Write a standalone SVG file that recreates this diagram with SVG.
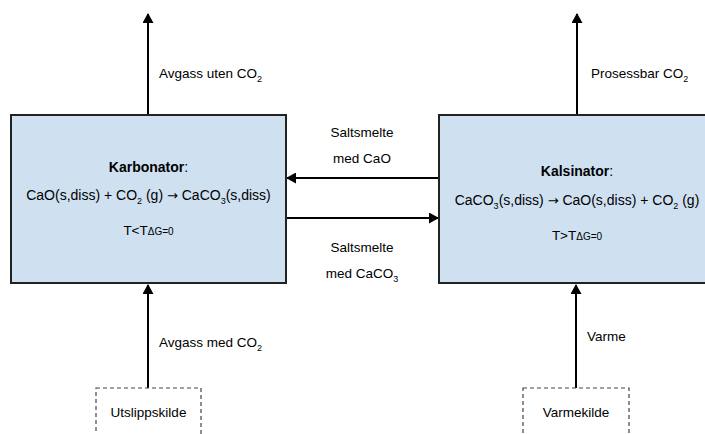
<svg xmlns="http://www.w3.org/2000/svg" width="705" height="434" viewBox="0 0 705 434">
<defs>
<style>
text{font-family:"Liberation Sans",Arial,sans-serif;fill:#000;}
.t{font-size:14px;}
.l{font-size:13.5px;}
.m{text-anchor:middle;}
.b{font-weight:bold;}
.sub{font-size:9px;}
.sub2{font-size:10px;}
.arr{font-family:"DejaVu Sans",sans-serif;font-size:13px;}
.box{fill:#cfe0f1;stroke:#222;stroke-width:2;}
.src{fill:#fff;stroke:#444;stroke-width:1.2;stroke-dasharray:4 3;}
.c{stroke:#000;stroke-width:2;fill:none;}
</style>
<marker id="ah" markerWidth="10" markerHeight="11" refX="9" refY="5.5" orient="auto" markerUnits="userSpaceOnUse">
<path d="M0,0 L10,5.5 L0,11 Z" fill="#000"/>
</marker>
</defs>
<rect width="705" height="434" fill="#fff"/>

<g id="connectors">
<line class="c" x1="148" y1="115" x2="148" y2="14" marker-end="url(#ah)"/>
<line class="c" x1="577" y1="115" x2="577" y2="14" marker-end="url(#ah)"/>
<line class="c" x1="148" y1="388" x2="148" y2="285" marker-end="url(#ah)"/>
<line class="c" x1="576" y1="388" x2="576" y2="285" marker-end="url(#ah)"/>
<line class="c" x1="439" y1="178" x2="287" y2="178" marker-end="url(#ah)"/>
<line class="c" x1="286" y1="218" x2="438" y2="218" marker-end="url(#ah)"/>
<text class="l" x="159" y="78">Avgass uten CO<tspan class="sub" dy="4">2</tspan></text>
<text class="l" x="591" y="78">Prosessbar CO<tspan class="sub" dy="4">2</tspan></text>
<text class="l" x="159" y="347">Avgass med CO<tspan class="sub" dy="4">2</tspan></text>
<text class="l" x="587" y="341">Varme</text>
<text class="l m" x="362" y="137">Saltsmelte</text>
<text class="l m" x="362" y="163">med CaO</text>
<text class="l m" x="362" y="252">Saltsmelte</text>
<text class="l m" x="362" y="278">med CaCO<tspan class="sub" dy="4">3</tspan></text>
</g>

<g id="karbonator">
<rect class="box" x="11" y="115" width="275" height="168"/>
<text class="t m" x="148.5" y="172"><tspan class="b">Karbonator</tspan>:</text>
<text class="t m" x="148.5" y="200">CaO(s,diss) + CO<tspan class="sub" dy="4">2</tspan><tspan dy="-4"> (g) </tspan><tspan class="arr">→</tspan><tspan> CaCO</tspan><tspan class="sub" dy="4">3</tspan><tspan dy="-4">(s,diss)</tspan></text>
<text class="l m" x="148.5" y="235">T&lt;T<tspan class="sub2">ΔG=0</tspan></text>
</g>

<g id="kalsinator">
<rect class="box" x="439" y="115" width="280" height="168"/>
<text class="t m" x="577" y="176"><tspan class="b">Kalsinator</tspan>:</text>
<text class="t m" x="577" y="205">CaCO<tspan class="sub" dy="4">3</tspan><tspan dy="-4">(s,diss) </tspan><tspan class="arr">→</tspan><tspan> CaO(s,diss) + CO</tspan><tspan class="sub" dy="4">2</tspan><tspan dy="-4"> (g)</tspan></text>
<text class="l m" x="577" y="240">T&gt;T<tspan class="sub2">ΔG=0</tspan></text>
</g>

<g id="utslippskilde">
<rect class="src" x="96" y="388" width="105" height="60"/>
<text class="l m" x="148.5" y="417">Utslippskilde</text>
</g>

<g id="varmekilde">
<rect class="src" x="523" y="388" width="106" height="60"/>
<text class="l m" x="576" y="417">Varmekilde</text>
</g>
</svg>
